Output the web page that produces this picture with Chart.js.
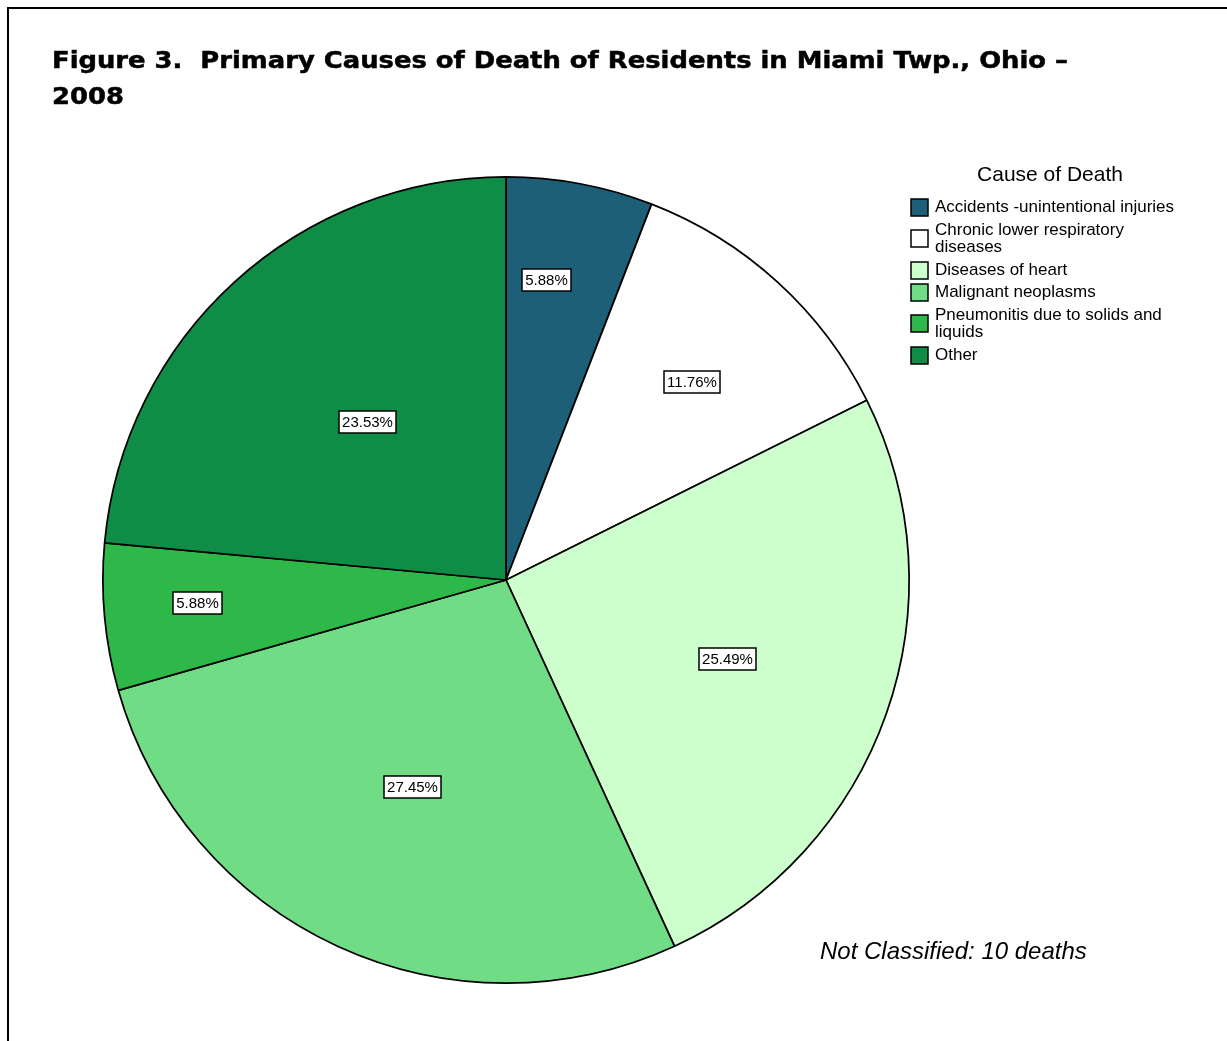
<!DOCTYPE html>
<html>
<head>
<meta charset="utf-8">
<script src="https://cdn.jsdelivr.net/npm/chart.js@4.4.1/dist/chart.umd.min.js"></script>
<style>
  html, body { margin: 0; padding: 0; background: #fff; overflow: hidden; }
  .wrap { position: relative; width: 1227px; height: 1041px; }
  .frame { position: absolute; left: 7px; top: 7px; width: 1300px; height: 1100px;
           border: 2px solid #000; pointer-events: none; }
  canvas { position: absolute; left: 0; top: 0; }
</style>
</head>
<body>
<div class="wrap">
  <canvas id="pie" width="1227" height="1041"></canvas>
  <div class="frame"></div>
</div>
<script>
// Data: deaths by primary cause (51 classified)
const categories = [
  'Accidents -unintentional injuries',
  'Chronic lower respiratory diseases',
  'Diseases of heart',
  'Malignant neoplasms',
  'Pneumonitis due to solids and liquids',
  'Other'
];
const deaths = [3, 6, 13, 14, 3, 12];
const sliceColors = ['#1C5F76', '#FFFFFF', '#CCFFCC', '#71DC86', '#2FB84A', '#0F8D47'];

const titleLines = ['Figure 3.  Primary Causes of Death of Residents in Miami Twp., Ohio \u2013', '2008'];
const legendTitle = 'Cause of Death';
const footnote = 'Not Classified: 10 deaths';

// label placement (fraction of radius, angle tweak in degrees)
const labelRadius = [0.75, 0.673, 0.584, 0.564, 0.767, 0.52];
const labelAngleShift = [-2.8, 0.8, 0.2, -0.4, 1.0, 1.1];

// wrap text to a max width
function wrapText(ctx, text, maxWidth) {
  const words = text.split(' ');
  const lines = [];
  let line = '';
  words.forEach(w => {
    const test = line ? line + ' ' + w : w;
    if (ctx.measureText(test).width > maxWidth && line) {
      lines.push(line);
      line = w;
    } else {
      line = test;
    }
  });
  if (line) lines.push(line);
  return lines;
}

// Boxed percentage labels inside slices
const sliceLabels = {
  id: 'sliceLabels',
  afterDatasetsDraw(chart) {
    const ctx = chart.ctx;
    const meta = chart.getDatasetMeta(0);
    const values = chart.data.datasets[0].data;
    const total = values.reduce((a, b) => a + b, 0);
    ctx.save();
    ctx.font = '15px "Liberation Sans", Arial, sans-serif';
    ctx.textAlign = 'center';
    ctx.textBaseline = 'middle';
    meta.data.forEach((arc, i) => {
      const p = arc.getProps(['x', 'y', 'startAngle', 'endAngle', 'outerRadius'], true);
      const frac = values[i] / total;
      const mid = (p.startAngle + p.endAngle) / 2 + labelAngleShift[i] * Math.PI / 180;
      const r = p.outerRadius * labelRadius[i];
      const cx = p.x + Math.cos(mid) * r;
      const cy = p.y + Math.sin(mid) * r;
      const text = (frac * 100).toFixed(2) + '%';
      const w = Math.round(ctx.measureText(text).width + 6);
      const h = 22;
      const bx = Math.round(cx - w / 2);
      const by = Math.round(cy - h / 2);
      ctx.fillStyle = '#fff';
      ctx.fillRect(bx, by, w, h);
      ctx.strokeStyle = '#000';
      ctx.lineWidth = 1.5;
      ctx.strokeRect(bx, by, w, h);
      ctx.fillStyle = '#000';
      ctx.fillText(text, bx + w / 2, by + h / 2 + 1);
    });
    ctx.restore();
  }
};

// Title, legend and footnote
const decorations = {
  id: 'decorations',
  afterDraw(chart) {
    const ctx = chart.ctx;
    ctx.save();
    ctx.fillStyle = '#000';
    ctx.textBaseline = 'middle';

    // title: heavy wide face, stretched to the width of the original
    ctx.font = 'bold 23px "DejaVu Sans", Verdana, sans-serif';
    ctx.textAlign = 'left';
    const sx = 1016 / ctx.measureText(titleLines[0]).width;
    titleLines.forEach((t, i) => {
      ctx.save();
      ctx.translate(52, 62 + i * 36);
      ctx.scale(sx, 1);
      ctx.strokeStyle = '#000';
      ctx.lineWidth = 0.5;
      ctx.fillText(t, 0, 0);
      ctx.strokeText(t, 0, 0);
      ctx.restore();
    });

    // legend title
    ctx.font = '21px "Liberation Sans", Arial, sans-serif';
    ctx.textAlign = 'center';
    ctx.fillText(legendTitle, 1050, 175);

    // legend items
    ctx.font = '17px "Liberation Sans", Arial, sans-serif';
    ctx.textAlign = 'left';
    let y = 207.5;
    chart.data.labels.forEach((label, i) => {
      const lines = wrapText(ctx, label, 246);
      const boxCy = y + (lines.length - 1) * 17.5 / 2;
      const by = Math.round(boxCy - 8.5);
      ctx.fillStyle = sliceColors[i];
      ctx.fillRect(911, by, 17, 17);
      ctx.strokeStyle = '#000';
      ctx.lineWidth = 1.5;
      ctx.strokeRect(911, by, 17, 17);
      ctx.fillStyle = '#000';
      lines.forEach((ln, j) => ctx.fillText(ln, 935, y + j * 17.5));
      y += (lines.length - 1) * 17.5 + 22.5;
    });

    // footnote
    ctx.font = 'italic 24px "Liberation Sans", Arial, sans-serif';
    ctx.fillText(footnote, 820, 952);
    ctx.restore();
  }
};

new Chart(document.getElementById('pie'), {
  type: 'pie',
  data: {
    labels: categories,
    datasets: [{
      data: deaths,
      backgroundColor: sliceColors,
      borderColor: '#000',
      borderWidth: 1.75
    }]
  },
  options: {
    responsive: false,
    animation: false,
    layout: {
      padding: { left: 102, right: 317, top: 176, bottom: 57 }
    },
    plugins: {
      legend: { display: false },
      title: { display: false },
      tooltip: { enabled: false }
    }
  },
  plugins: [sliceLabels, decorations]
});
</script>
</body>
</html>
